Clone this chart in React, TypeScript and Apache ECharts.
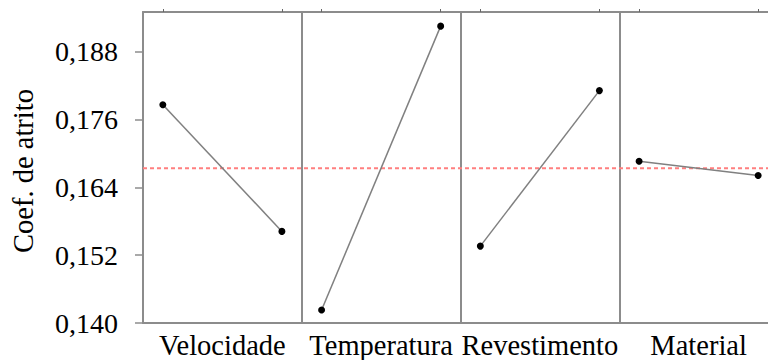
import React, { useEffect, useRef } from "react";
import * as echarts from "echarts";

// Main-effects plot: mean friction coefficient for each factor at its two levels
const factors = ["Velocidade", "Temperatura", "Revestimento", "Material"];
const level1Means = [0.1786, 0.1423, 0.1536, 0.1686];
const level2Means = [0.1562, 0.1925, 0.1811, 0.1661];
const yTicks = [0.14, 0.152, 0.164, 0.176, 0.188];
const yTitle = "Coef. de atrito";

const FONT = "Liberation Serif";
const BORDER = "#8c8c8c";

export default function App() {
  const ref = useRef<HTMLDivElement>(null);

  useEffect(() => {
    if (!ref.current) return;
    const chart = echarts.init(ref.current, undefined, { renderer: "svg" });

    const allMeans = [...level1Means, ...level2Means];
    const grandMean = allMeans.reduce((a, b) => a + b, 0) / allMeans.length;

    // level positions inside each factor panel (panel i spans [i, i+1])
    const levelPos = [0.125, 0.875];
    const pointXs: number[] = [];
    factors.forEach((_, i) => levelPos.forEach((p) => pointXs.push(i + p)));

    const factorSeries = factors.map((name, i) => ({
      name,
      type: "line",
      xAxisIndex: 0,
      yAxisIndex: 0,
      data: [
        [i + levelPos[0], level1Means[i]],
        [i + levelPos[1], level2Means[i]],
      ],
      symbol: "circle",
      symbolSize: 7,
      itemStyle: { color: "#000" },
      lineStyle: { color: "#808080", width: 1.5 },
      z: 3,
    }));

    chart.setOption({
      animation: false,
      backgroundColor: "#fff",
      grid: { left: 143, top: 12, width: 635, height: 313 },
      xAxis: [
        {
          type: "value",
          min: 0,
          max: factors.length,
          interval: 1,
          position: "bottom",
          axisLine: { show: true, onZero: false, lineStyle: { color: BORDER, width: 2 } },
          axisTick: { show: false },
          axisLabel: { show: false },
          splitLine: { show: true, lineStyle: { color: BORDER, width: 2 } },
        },
        {
          type: "value",
          min: 0,
          max: factors.length,
          position: "top",
          axisLine: { show: true, onZero: false, lineStyle: { color: BORDER, width: 2 } },
          axisTick: {
            show: true,
            customValues: pointXs,
            length: 3,
            lineStyle: { color: "#666", width: 1 },
          },
          axisLabel: { show: false },
          splitLine: { show: false },
        },
        {
          type: "category",
          data: factors,
          position: "bottom",
          boundaryGap: true,
          axisLine: { show: false },
          axisTick: { show: false },
          axisLabel: {
            show: true,
            interval: 0,
            hideOverlap: false,
            margin: 8,
            color: "#000",
            fontFamily: FONT,
            fontSize: 28.5,
          },
          splitLine: { show: false },
        },
      ],
      yAxis: {
        type: "value",
        min: 0.14,
        max: 0.195,
        axisLine: { show: true, onZero: false, lineStyle: { color: BORDER, width: 2 } },
        axisTick: {
          show: true,
          customValues: yTicks,
          length: 8,
          lineStyle: { color: BORDER, width: 1.5 },
        },
        axisLabel: {
          customValues: yTicks,
          margin: 25,
          color: "#000",
          fontFamily: FONT,
          fontSize: 28,
          formatter: (v: number) => v.toFixed(3).replace(".", ","),
        },
        splitLine: { show: false },
      },
      graphic: [
        {
          type: "text",
          x: 23,
          y: 171,
          rotation: Math.PI / 2,
          style: {
            text: yTitle,
            fill: "#000",
            font: `28.5px ${FONT}`,
            textAlign: "center",
            textVerticalAlign: "middle",
          },
        },
      ],
      series: [
        {
          name: "Média",
          type: "line",
          xAxisIndex: 0,
          data: [
            [0, grandMean],
            [factors.length, grandMean],
          ],
          symbol: "none",
          lineStyle: { color: "#ff7f7f", width: 2, type: [4, 3] },
          z: 2,
        },
        ...factorSeries,
      ],
    });

    return () => chart.dispose();
  }, []);

  // The last panel runs past the right edge of the view, so the chart box is wider than the page
  return (
    <div
      ref={ref}
      style={{ position: "fixed", left: 0, top: 0, width: 800, height: 360 }}
    />
  );
}
